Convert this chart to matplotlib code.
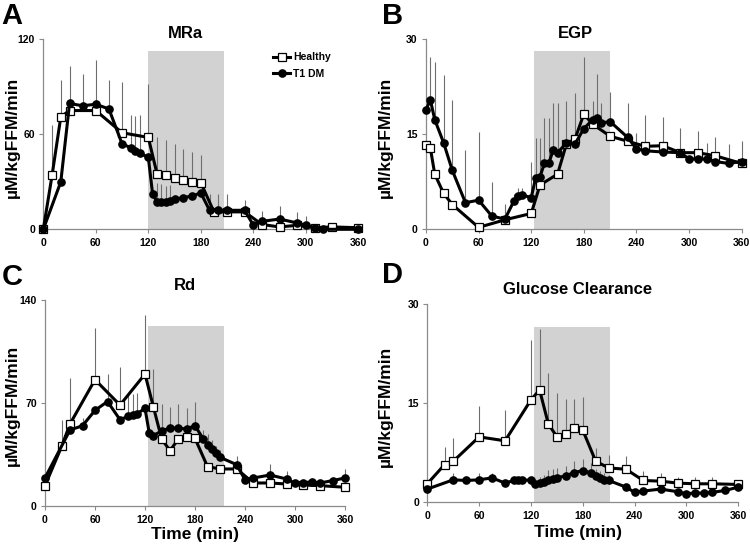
import matplotlib
matplotlib.use('Agg')
import matplotlib.pyplot as plt
import numpy as np

plt.rcParams['font.family'] = ['Liberation Sans', 'DejaVu Sans']
plt.rcParams['font.weight'] = 'bold'

# ---- Panel A: MRa ----
mra_h_t = [0, 10, 20, 30, 60, 90, 120, 130, 140, 150, 160, 170, 180, 195, 210, 230, 250, 270, 290, 310, 330, 360]
mra_h = [0, 34, 71, 75, 75, 61, 58, 35, 34, 32.5, 31, 30, 29.5, 11, 11, 11, 3, 1.5, 2.5, 1, 1.5, 1]
mra_h_err = [0, 32, 23, 0, 0, 32, 34, 23.5, 22.5, 21.5, 20, 18.7, 17.5, 0, 0, 0, 0, 0, 0, 0, 0, 0]
mra_t1_t = [0, 20, 30, 45, 60, 75, 90, 100, 105, 110, 120, 125, 130, 135, 140, 145, 150, 160, 170, 180,
            190, 200, 210, 230, 240, 250, 270, 290, 300, 310, 320, 360]
mra_t1 = [0, 30, 79.5, 78, 79, 76, 54, 51.5, 49.5, 48, 45.5, 22, 17.5, 17.5, 17.5, 18, 19, 20, 21, 23,
          12, 12, 12, 12, 2.7, 5, 6.5, 4, 2.7, 1, 0, 0]
mra_t1_err = [0, 0, 23.5, 20, 28, 18, 0, 21, 22, 24, 0, 0, 12, 11, 10, 10, 0, 0, 0, 0,
              10, 10, 10, 6.5, 0, 6.5, 8, 7, 6, 0, 0, 0]

# ---- Panel B: EGP ----
egp_h_t = [0, 5, 10, 20, 30, 60, 90, 120, 130, 150, 160, 170, 180, 190, 210, 230, 250, 270, 290, 310, 330, 360]
egp_h = [13.3, 12.8, 8.7, 5.7, 3.9, 0.3, 1.5, 2.5, 7.0, 8.7, 13.4, 14.3, 18.2, 16.6, 14.7, 13.9, 13.1, 13.2,
         12.1, 12.1, 11.6, 10.4]
egp_h_err = [0, 0, 0, 0, 0, 0, 0, 0, 0, 0, 0, 0, 9, 0, 0, 0, 0, 0, 0, 0, 0, 0]
egp_t1_t = [0, 5, 10, 20, 30, 45, 60, 75, 90, 100, 105, 110, 120, 125, 130, 135, 140, 145, 150, 160, 170, 180,
            190, 195, 200, 210, 230, 240, 250, 270, 290, 300, 310, 320, 330, 345, 360]
egp_t1 = [18.9, 20.4, 17.3, 13.7, 9.3, 4.2, 4.6, 2.1, 1.6, 4.4, 5.2, 5.4, 5.0, 8.1, 8.3, 10.4, 10.4, 12.5, 12.1,
          13.6, 13.5, 15.9, 17.3, 17.5, 16.8, 17, 14.5, 12.7, 12.4, 12.2, 12.1, 11.1, 11.1, 11.1, 10.7, 10.4, 10.7]
egp_t1_err = [0, 6.8, 9.1, 10.7, 11.1, 8.3, 10.7, 5.4, 2.4, 1.1, 1.3, 1.1, 5.7, 6.3, 6.1, 7.1, 7.1, 7.5, 7.9,
              6.7, 8, 0, 2.9, 7, 3.1, 4.7, 5.5, 2.5, 5.6, 5.5, 3.9, 0, 4.4, 2.5, 3.9, 3.1, 3.3]

# ---- Panel C: Rd ----
rd_h_t = [0, 20, 30, 60, 90, 120, 130, 140, 150, 160, 170, 180, 195, 210, 230, 250, 270, 290, 310, 330, 360]
rd_h = [14, 40.6, 55.8, 85.8, 68.6, 89.6, 67.5, 45.6, 37.7, 45.6, 46.7, 46, 26.9, 25.3, 25.3, 15.8, 15.8,
        15.1, 14.4, 14, 12.9]
rd_h_err = [0, 18, 31, 35, 26, 40, 25.5, 0, 0, 0, 0, 0, 0, 0, 0, 0, 0, 0, 0, 0, 0]
rd_t1_t = [0, 30, 45, 60, 75, 90, 100, 105, 110, 120, 125, 130, 140, 150, 160, 170, 180, 190, 195, 200, 205,
           210, 230, 240, 250, 270, 290, 300, 310, 320, 330, 345, 360]
rd_t1 = [19.2, 51.7, 54.6, 65, 71, 58.7, 61, 62, 62.5, 66.4, 50, 47.8, 51.2, 53, 53, 52.4, 54.6, 45.6, 41.8,
         38.8, 36, 33.2, 28.2, 18, 19.2, 21.2, 18.5, 15.6, 15.8, 16.7, 15.8, 17.4, 19.2]
rd_t1_err = [0, 0, 5.5, 0, 18.6, 0, 15, 14, 14, 0, 0, 0, 18, 14, 16, 14, 16, 6, 7, 6, 5,
             5, 6, 0, 0, 7.5, 5.5, 0, 0, 0, 0, 0, 6]

# ---- Panel D: Glucose clearance ----
gc_h_t = [0, 20, 30, 60, 90, 120, 130, 140, 150, 160, 170, 180, 195, 210, 230, 250, 270, 290, 310, 330, 360]
gc_h = [2.8, 5.7, 6.2, 9.9, 9.3, 15.5, 17, 11.9, 9.9, 10.3, 11.2, 10.9, 6.2, 5.2, 5.0, 3.3, 3.2, 2.9, 2.8, 2.8, 2.7]
gc_h_err = [0, 2.7, 3.5, 4.6, 4.7, 9, 9.2, 7.7, 6.7, 5.3, 4.4, 5.1, 2, 2, 2, 1.5, 1.2, 1, 1, 1, 0]
gc_t1_t = [0, 30, 45, 60, 75, 90, 100, 105, 110, 120, 125, 130, 135, 140, 145, 150, 160, 170, 180, 190, 195,
           200, 205, 210, 230, 240, 250, 270, 290, 300, 310, 320, 330, 345, 360]
gc_t1 = [2.0, 3.4, 3.3, 3.4, 3.7, 2.9, 3.3, 3.3, 3.3, 3.4, 2.7, 2.9, 3.0, 3.4, 3.5, 3.7, 4.0, 4.5, 4.8, 4.4, 4.0,
         3.7, 3.4, 3.3, 2.3, 1.5, 1.7, 2.0, 1.6, 1.3, 1.4, 1.4, 1.5, 1.8, 2.3]
gc_t1_err = [0, 1, 0, 1, 0.8, 0, 0, 0, 0, 0.5, 0.8, 1, 1.2, 1.5, 1.5, 1.5, 1.5, 1.8, 1.8, 1.5, 1,
             1, 1, 0.8, 0, 0, 0, 0, 0, 0, 0, 0, 0, 0, 0]

fig = plt.figure(figsize=(7.5, 5.48), dpi=100)
W, H = 750.0, 548.0


def make_ax(x0, x1, ytop, ybot):
    return fig.add_axes([x0 / W, 1 - ybot / H, (x1 - x0) / W, (ybot - ytop) / H])


def draw(ax, ymax, shade, shade_top, series):
    ax.axvspan(shade[0], shade[1], ymin=0, ymax=shade_top / ymax, color='#d2d2d2', zorder=0, lw=0)
    for t, v, e, mk in series:
        t = np.array(t); v = np.array(v); e = np.array(e)
        ax.vlines(t, v, v + e, color='#6e6e6e', lw=0.8, zorder=1, clip_on=False)
    for t, v, e, mk in series:
        if mk == 's':
            ax.plot(t, v, '-', color='black', lw=2.2, marker='s', ms=6, mfc='white', mec='black',
                    mew=0.9, zorder=3, clip_on=False, label='Healthy')
        else:
            ax.plot(t, v, '-', color='black', lw=2.2, marker='o', ms=5.2, mfc='black', mec='black',
                    zorder=4, clip_on=False, label='T1 DM')
    ax.set_xlim(0, 360)
    ax.set_ylim(0, ymax)
    ax.set_xticks(range(0, 361, 60))
    ax.set_yticks([0, ymax / 2, ymax])
    ax.set_yticklabels([str(int(y)) for y in [0, ymax / 2, ymax]])
    for s in ['top', 'right']:
        ax.spines[s].set_visible(False)
    for s in ['left', 'bottom']:
        ax.spines[s].set_color('#8a8a8a')
        ax.spines[s].set_linewidth(0.9)
    ax.tick_params(axis='both', length=3, width=0.8, color='#8a8a8a', labelsize=7.5, pad=3)
    for lab in ax.get_xticklabels() + ax.get_yticklabels():
        lab.set_fontweight('bold')
    ax.set_facecolor('none')


axA = make_ax(43.3, 358.3, 39.3, 229.3)
draw(axA, 120, (120, 207), 112.6,
     [(mra_h_t, mra_h, mra_h_err, 's'), (mra_t1_t, mra_t1, mra_t1_err, 'o')])
axA.legend(loc='upper left', bbox_to_anchor=(0.7, 0.98), frameon=False, handlelength=1.6,
           prop={'size': 7.5, 'weight': 'bold'}, labelspacing=0.6, handletextpad=0.3)

axB = make_ax(426, 741.7, 39.3, 229.3)
draw(axB, 30, (123, 210), 28.2,
     [(egp_h_t, egp_h, egp_h_err, 's'), (egp_t1_t, egp_t1, egp_t1_err, 'o')])

axC = make_ax(45, 345, 299.7, 506.3)
draw(axC, 140, (123, 215), 122,
     [(rd_h_t, rd_h, rd_h_err, 's'), (rd_t1_t, rd_t1, rd_t1_err, 'o')])

axD = make_ax(427.3, 738.3, 304, 502.3)
draw(axD, 30, (123, 211), 26.5,
     [(gc_h_t, gc_h, gc_h_err, 's'), (gc_t1_t, gc_t1, gc_t1_err, 'o')])


def ftext(x, y, s, **kw):
    fig.text(x / W, 1 - y / H, s, fontweight='bold', **kw)


# panel letters
ftext(12, 16, 'A', fontsize=21, ha='center', va='center')
ftext(393, 16, 'B', fontsize=21, ha='center', va='center')
ftext(12, 277, 'C', fontsize=21, ha='center', va='center')
ftext(393, 275, 'D', fontsize=21, ha='center', va='center')

# titles
ftext(185, 33, 'MRa', fontsize=12, ha='center', va='center')
ftext(575, 33, 'EGP', fontsize=12, ha='center', va='center')
ftext(185, 286, 'Rd', fontsize=12, ha='center', va='center')
ftext(578, 289, 'Glucose Clearance', fontsize=12, ha='center', va='center')

# y labels
for x, y in [(12, 137), (385, 137), (12, 405), (385, 406)]:
    ftext(x, y, 'µM/kgFFM/min', fontsize=12.5, rotation=90, ha='center', va='center')

# x labels
ftext(195, 534, 'Time (min)', fontsize=12.5, ha='center', va='center')
ftext(578, 532, 'Time (min)', fontsize=12.5, ha='center', va='center')

fig.savefig('out.png', dpi=100)
